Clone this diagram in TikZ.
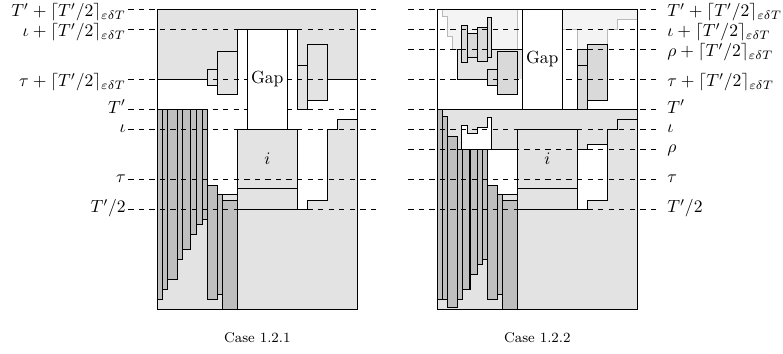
\documentclass[tikz,border=0pt]{standalone}
\usepackage{amsmath,amssymb}
\usepackage{tikz}
\usetikzlibrary{positioning}

\begin{document}
\begin{tikzpicture}[x=2mm,y=2mm,semithick,
  lt/.style={fill=gray!22,draw},
  md/.style={fill=gray!30,draw},
  dk/.style={fill=gray!50,draw},
  hole/.style={fill=white,draw},
  ghost/.style={fill=gray!9,draw=gray!55},
  guide/.style={dashed,thin},
  lbl/.style={inner sep=0pt}]
\useasboundingbox (-15.73,-4.47) rectangle (62.57,30.93);

% case 1.2.1
\fill[gray!22] (0,23) rectangle (20,30);
\fill[white] (8,23) rectangle (14,28);
\draw (0,23) -- (5,23) (17,23) -- (20,23);
\draw (8,23) -- (8,28) -- (14,28) -- (14,23);
\draw[lt] (5,22.4) rectangle (6,24);
\draw[lt] (6,21.5) rectangle (8,25.8);
\draw[lt] (14,20) rectangle (15,24.4);
\draw[lt] (15,20.9) rectangle (17,26.5);
\draw[lt] (0,0) -- (20,0) -- (20,19) -- (18,19) -- (18,18) -- (17,18) -- (17,10.9)
  -- (15,10.9) -- (15,10) -- (14,10) -- (14,18) -- (8,18) -- (8,11.5) -- (0,11.5) -- cycle;
\draw (8,10) rectangle (14,18) (8,12.1) -- (14,12.1);
\node (iL) at (11,15.05) {$i$};
\foreach \a/\b/\c in {0/0.5/1, 0.5/1/2, 1/2/3, 2/2.5/5, 2.5/3.3/6, 3.3/3.9/7.5, 3.9/4.5/8.5, 4.5/5/9}
  \draw[dk] (\a,\c) rectangle (\b,20);
\draw[dk] (5,1) rectangle (6,12.4);
\draw[dk] (6,1.5) rectangle (6.5,11.5);
\draw[dk] (6.5,0) rectangle (8,10.9);
\draw (0,0) rectangle (20,30);
\foreach \y in {30,28,23,20,18,13,10}
  \draw[guide] (-2.9,\y) -- (22.4,\y);
\draw[hole] (9,18) rectangle (13,28);
\node (gapL) at (11,23) {Gap};
\foreach \y/\t/\s/\n in {30/{T'+\lceil T'/2\rceil_{\varepsilon\delta T}}/4.2/a, 28/{\iota+\lceil T'/2\rceil_{\varepsilon\delta T}}/4.2/b,
    23/{\tau+\lceil T'/2\rceil_{\varepsilon\delta T}}/4.2/c, 20/{T'}/2.2/d, 18/{\iota}/1.6/e, 13/{\tau}/1.9/f, 10/{T'/2}/2.1/g}
  \node[lbl,anchor=base east,yshift=-\s pt] (L\n) at (-3.1,\y) {$\t$};
\node (capL) at (10,-2.8) {\footnotesize Case 1.2.1};

% case 1.2.2
\begin{scope}[xshift=56mm]
\filldraw[fill=gray!22] (0,0) rectangle (20,20);
\filldraw[ghost] (0.54,30) -- (0.54,29.26) -- (1.04,29.26) -- (1.04,27.26) -- (1.54,27.26)
  -- (1.54,26) -- (8,26) -- (8,30);
\filldraw[ghost] (12.5,30) -- (12.5,28) -- (14,28) -- (14,26) -- (17,26) -- (17,28)
  -- (18,28) -- (18,29) -- (20,29) -- (20,30);
\fill[gray!22] (2,23) rectangle (8.5,26);
\draw (8.5,26) -- (2,26) -- (2,23) -- (5,23);
\foreach \a/\b/\c/\d in {2.44/3/24.66/28.36, 3/4.04/25.16/27.6, 4.04/5/24.76/28.16, 5/5.44/25.16/29.16}
  \draw[md] (\a,\c) rectangle (\b,\d);
\draw[md] (5,22.4) rectangle (6,24);
\draw[md] (6,21.5) rectangle (8,25.76);
\draw[md] (14,20) rectangle (15,24.36);
\draw[md] (14,24.36) rectangle (15,26);
\draw[md] (15,20.86) rectangle (17,26.5);
\draw[hole] (2.44,16) -- (2.44,18.36) -- (3,18.36) -- (3,17.6) -- (4.04,17.6) -- (4.04,18.16)
  -- (5,18.16) -- (5,19.16) -- (5.44,19.16) -- (5.44,16) -- cycle;
\draw[hole] (5,16) rectangle (8,11.5);
\draw[hole] (14,16) -- (15,16) -- (15,16.5) -- (17,16.5) -- (17,10.9) -- (15,10.9)
  -- (15,10) -- (14,10) -- cycle;
\draw (17,16.5) -- (17,18) -- (18,18) -- (18,19) -- (20,19);
\draw (8,10) rectangle (14,18) (8,12.1) -- (14,12.1);
\node (iR) at (11,15.05) {$i$};
\foreach \a/\b/\c/\d in {0/0.5/1/20, 0.5/1/1/19.25, 1/2.04/0.2/17.25, 2.04/2.54/1/16,
    2.54/3.27/2/16, 3.27/4.04/3.5/16, 4.04/4.54/4.5/16, 4.54/5/5/16}
  \draw[dk] (\a,\c) rectangle (\b,\d);
\draw[dk] (5,1) rectangle (6,12.4);
\draw[dk] (6,1.5) rectangle (6.5,11.5);
\draw[dk] (6.5,0) rectangle (8,10.9);
\draw (0,0) rectangle (20,30);
\foreach \y in {30,28,26,23,20,18,16,13,10}
  \draw[guide] (-2.9,\y) -- (22.4,\y);
\draw[hole] (8.5,20) rectangle (12.5,30);
\node (gapR) at (10.5,25) {Gap};
\foreach \y/\t/\s/\n in {30/{T'+\lceil T'/2\rceil_{\varepsilon\delta T}}/4.2/a, 28/{\iota+\lceil T'/2\rceil_{\varepsilon\delta T}}/4.2/b,
    26/{\rho+\lceil T'/2\rceil_{\varepsilon\delta T}}/4.2/c, 23/{\tau+\lceil T'/2\rceil_{\varepsilon\delta T}}/4.2/d,
    20/{T'}/2.2/e, 18/{\iota}/1.6/f, 16/{\rho}/1.9/g, 13/{\tau}/1.9/h, 10/{T'/2}/2.1/k}
  \node[lbl,anchor=base west,yshift=-\s pt] (R\n) at (22.95,\y) {$\t$};
\node (capR) at (10,-2.8) {\footnotesize Case 1.2.2};
\end{scope}
\end{tikzpicture}
\end{document}
